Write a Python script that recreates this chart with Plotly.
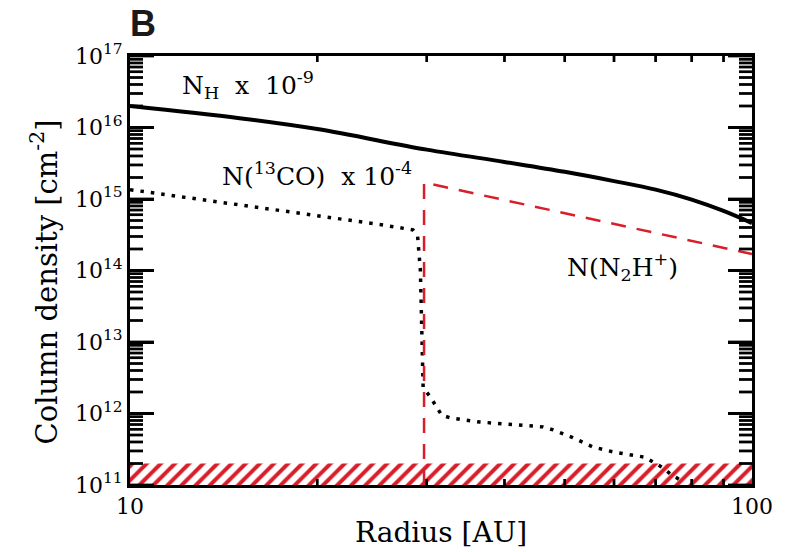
import plotly.graph_objects as go

# N_H x 1e-9 (solid black)
r_nh = [10, 15, 20, 30, 40, 50, 60, 70, 80, 90, 100]
n_nh = [2.0e16, 1.35e16, 9.5e15, 4.9e15, 3.3e15, 2.4e15, 1.78e15, 1.35e15, 9.8e14, 6.8e14, 4.6e14]

# N(13CO) x 1e-4 (dotted black)
r_co = [10, 12.2, 18.8, 25.2, 28.5, 29.0, 29.3, 29.6, 30.4, 31.7, 32.7, 36.5, 41.3, 46.1,
        47.9, 51.5, 55.5, 59.8, 64.4, 67.3, 69.3, 71.9, 74.3, 77.0]
n_co = [1.35e15, 1.07e15, 6.3e14, 4.4e14, 3.7e14, 3.0e14, 1.0e14, 2.3e12, 1.7e12, 9.5e11,
        8.7e11, 7.6e11, 7.1e11, 6.5e11, 5.9e11, 4.6e11, 3.4e11, 2.9e11, 2.6e11, 2.45e11,
        2.1e11, 1.74e11, 1.38e11, 1.15e11]

# N(N2H+) (dashed red)
r_n2h = [29.7, 29.7, 100]
n_n2h = [1.0e11, 1.7e15, 1.7e14]

# detection-limit band
band_r = [10, 100, 100, 10, 10]
band_n = [1e11, 1e11, 2e11, 2e11, 1e11]

y_tickvals = [1e11, 1e12, 1e13, 1e14, 1e15, 1e16, 1e17]
y_ticktext = ["10<sup>%d</sup>" % e for e in range(11, 18)]
y_minor = [float(m * 10 ** e) for e in range(11, 17) for m in range(2, 10)]
x_tickvals = [10, 100]
x_ticktext = ["10", "100"]
x_minor = [20.0, 30.0, 40.0, 50.0, 60.0, 70.0, 80.0, 90.0]

X_RANGE = (1, 2)     # log10 of axis limits
Y_RANGE = (11, 17)
PLOT_W, PLOT_H = 622, 429   # plot area in px

RED = "#d81e2a"
FONT = "DejaVu Serif"

fig = go.Figure()
fig.add_trace(go.Scatter(x=band_r, y=band_n, mode="lines", fill="toself",
                         line=dict(width=0, color=RED), fillcolor="rgba(0,0,0,0)",
                         fillpattern=dict(shape="/", fgcolor=RED, bgcolor="white",
                                          size=10, solidity=0.4, fgopacity=1),
                         hoverinfo="skip", showlegend=False))
fig.add_trace(go.Scatter(x=r_nh, y=n_nh, mode="lines", line=dict(color="black", width=4),
                         line_shape="spline", showlegend=False))
fig.add_trace(go.Scatter(x=r_co, y=n_co, mode="lines",
                         line=dict(color="black", width=3.5, dash="3.5px,7px"), showlegend=False))
fig.add_trace(go.Scatter(x=r_n2h, y=n_n2h, mode="lines",
                         line=dict(color=RED, width=2.5, dash="15px,11px"), showlegend=False))


def px_factor(px, axis_px, rng):
    return 10 ** (px * (rng[1] - rng[0]) / axis_px)


xlo, xhi = 10.0 ** X_RANGE[0], 10.0 ** X_RANGE[1]
ylo, yhi = 10.0 ** Y_RANGE[0], 10.0 ** Y_RANGE[1]
y_all = [(v, 24) for v in y_tickvals] + [(v, 13) for v in y_minor]
X_LEN = 6
HALF_T = 1.25   # half tick thickness, px

# tick marks as thin filled rectangles (one closed segment per tick)
gy = px_factor(HALF_T, PLOT_H, Y_RANGE)
gx = px_factor(HALF_T, PLOT_W, X_RANGE)
rx, ry = [], []
for v, length in y_all:
    for edge, sgn in ((xlo, 1), (xhi, -1)):
        tip = edge * px_factor(length, PLOT_W, X_RANGE) ** sgn
        rx += [edge, tip, tip, edge, edge, None]
        ry += [v / gy, v / gy, v * gy, v * gy, v / gy, None]
fyl = px_factor(X_LEN, PLOT_H, Y_RANGE)
for v in x_minor:
    for edge, sgn in ((ylo, 1), (yhi, -1)):
        tip = edge * fyl ** sgn
        rx += [v / gx, v * gx, v * gx, v / gx, v / gx, None]
        ry += [edge, edge, tip, tip, edge, None]
fig.add_trace(go.Scatter(x=rx, y=ry, mode="lines", fill="toself", fillcolor="black",
                         line=dict(width=0, color="black"), hoverinfo="skip",
                         showlegend=False))

# the same ticks again as line-shaped markers centred on each tick
mx, my, ms, msym = [], [], [], []
for v, length in y_all:
    for edge, sgn in ((xlo, 1), (xhi, -1)):
        mx.append(edge * px_factor(length / 2, PLOT_W, X_RANGE) ** sgn)
        my.append(v)
        ms.append(length / 1.4)
        msym.append("line-ew")
for v in x_minor:
    for edge, sgn in ((ylo, 1), (yhi, -1)):
        mx.append(v)
        my.append(edge * px_factor(X_LEN / 2, PLOT_H, Y_RANGE) ** sgn)
        ms.append(X_LEN / 1.4)
        msym.append("line-ns")
fig.add_trace(go.Scatter(x=mx, y=my, mode="markers", cliponaxis=False,
                         marker=dict(symbol=msym, size=ms, color="black",
                                     line=dict(color="black", width=2.5)),
                         hoverinfo="skip", showlegend=False))

fig.update_layout(
    width=794, height=552,
    margin=dict(l=130, r=42, t=56, b=67),
    paper_bgcolor="white", plot_bgcolor="white",
    font=dict(family=FONT, size=22, color="black"),
    xaxis=dict(type="log", range=list(X_RANGE), tickmode="array",
               tickvals=x_tickvals, ticktext=x_ticktext,
               showgrid=False, zeroline=False, showline=True, linecolor="black",
               linewidth=3, mirror="ticks", ticks="inside", ticklen=10, tickwidth=2.5,
               tickcolor="black"),
    yaxis=dict(type="log", range=list(Y_RANGE), tickmode="array",
               tickvals=y_tickvals, ticktext=y_ticktext,
               showgrid=False, zeroline=False, showline=True, linecolor="black",
               linewidth=3, mirror="ticks", ticks="inside", ticklen=24, tickwidth=2.5,
               tickcolor="black"),
)

ann_font = dict(family=FONT, size=25, color="black")
fig.add_annotation(x=1.080, y=16.59, xref="x", yref="y", xanchor="left", yanchor="middle",
                   text="N<sub>H</sub>&nbsp; x&nbsp; 10<sup>-9</sup>", showarrow=False, font=ann_font)
fig.add_annotation(x=1.145, y=15.34, xref="x", yref="y", xanchor="left", yanchor="middle",
                   text="N(<sup>13</sup>CO)&nbsp; x&nbsp;10<sup>-4</sup>", showarrow=False, font=ann_font)
fig.add_annotation(x=1.699, y=14.05, xref="x", yref="y", xanchor="left", yanchor="middle",
                   text="N(N<sub>2</sub>H<sup>+</sup>)", showarrow=False, font=ann_font)

fig.add_annotation(x=0.5, y=0, xref="paper", yref="paper", yshift=-47, yanchor="middle",
                   text="Radius [AU]", showarrow=False, font=dict(family=FONT, size=28))
fig.add_annotation(x=0, y=0.5, xref="paper", yref="paper", xshift=-86, yshift=-12,
                   xanchor="center", yanchor="middle", textangle=-90,
                   text="Column density [cm<sup>-2</sup>]",
                   showarrow=False, font=dict(family=FONT, size=29))
fig.add_annotation(x=0, y=1, xref="paper", yref="paper", xanchor="left", yanchor="middle",
                   xshift=-2, yshift=33, text="<b>B</b>", showarrow=False,
                   font=dict(family="Liberation Sans", size=36, color="#1a1a1a"))

fig.write_html("out.html")
